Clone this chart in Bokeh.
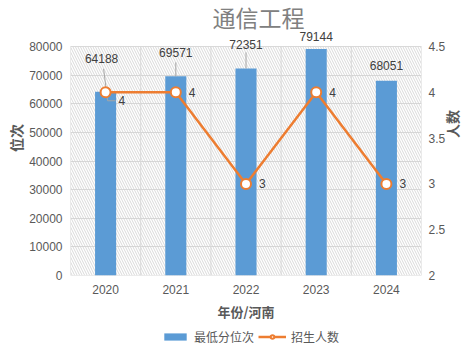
from math import pi
from bokeh.plotting import figure
from bokeh.layouts import column
from bokeh.models import (Range1d, LinearAxis, FixedTicker, Label, Legend, LegendItem,
                          ColumnDataSource, NumeralTickFormatter)
from bokeh.embed import file_html
from bokeh.resources import INLINE
from bokeh.core.properties import value

# ---- data ----
years = ["2020", "2021", "2022", "2023", "2024"]
min_rank = [64188, 69571, 72351, 79144, 68051]
enroll = [4, 4, 3, 4, 3]
left_ticks = [0, 10000, 20000, 30000, 40000, 50000, 60000, 70000, 80000]
right_ticks = [2, 2.5, 3, 3.5, 4, 4.5]
series_names = ["最低分位次", "招生人数"]

# ---- styling / geometry ----
W = 476
H1, H2 = 325, 26                # main chart, legend strip
ML, MR, MB = 70, 55, 50
PLOT_TOP = 46                   # pixel row of the top of the plotting box
FW, FH = W - ML - MR, H1 - MB   # frame reaches the top of the canvas
BOX_H = FH - PLOT_TOP
BLUE = "#5B9BD5"
ORANGE = "#ED7D31"
GRID = "#d9d9d9"
TICK = "#595959"
LAB = "#404040"
NUMF = value("Liberation Sans")
CJK = "Noto Sans CJK SC"

idx = list(range(len(years)))
ymin, ymax = left_ticks[0], left_ticks[-1]
rmin, rmax = right_ticks[0], right_ticks[-1]
ytop = ymin + (ymax - ymin) * FH / BOX_H
rtop = rmin + (rmax - rmin) * FH / BOX_H
px_x = len(years) / FW
px_y = (ymax - ymin) / BOX_H

p = figure(width=W, height=H1, output_backend="svg", toolbar_location=None,
           x_range=Range1d(-0.5, len(years) - 0.5), y_range=Range1d(ymin, ytop),
           min_border_left=ML, min_border_right=MR, min_border_top=0, min_border_bottom=MB)
p.background_fill_color = "white"
p.border_fill_color = "white"
p.outline_line_color = None

# grids
p.xgrid.visible = False
p.ygrid.ticker = FixedTicker(ticks=left_ticks)
p.ygrid.grid_line_color = GRID

# hatched plot box with outline
p.quad(left=-0.5, right=len(years) - 0.5, bottom=ymin, top=ymax,
       fill_alpha=0, line_color=GRID, line_width=1, hatch_pattern="\\",
       hatch_color="#cfcfcf", hatch_scale=5, hatch_weight=0.8)
p.segment(x0=[i + 0.5 for i in idx[:-1]], y0=ymin, x1=[i + 0.5 for i in idx[:-1]], y1=ymax,
          line_color=GRID, line_width=1)

# axes
p.xaxis.ticker = FixedTicker(ticks=idx)
p.xaxis.major_label_overrides = {i: y for i, y in enumerate(years)}
p.xaxis.axis_label = "年份/河南"
p.yaxis.ticker = FixedTicker(ticks=left_ticks)
p.yaxis.formatter = NumeralTickFormatter(format="0")
p.yaxis.axis_label = "位次"

rax = LinearAxis(y_range_name="r", ticker=FixedTicker(ticks=right_ticks),
                 formatter=NumeralTickFormatter(format="0.[0]"), axis_label="人数")
p.extra_y_ranges = {"r": Range1d(rmin, rtop)}
p.add_layout(rax, "right")
if hasattr(rax, "axis_label_orientation"):
    rax.axis_label_orientation = pi / 2

for ax in (p.xaxis[0], p.yaxis[0], rax):
    ax.axis_line_color = None
    ax.major_tick_line_color = None
    ax.minor_tick_line_color = None
    ax.major_tick_out = 0
    ax.major_tick_in = 0
    ax.minor_tick_out = 0
    ax.minor_tick_in = 0
    ax.major_label_text_font = "Liberation Sans"
    ax.major_label_text_font_size = "12px"
    ax.major_label_text_color = TICK
    ax.axis_label_text_font = CJK
    ax.axis_label_text_font_style = "bold"
    ax.axis_label_text_color = TICK
p.xaxis.major_label_standoff = 9
p.xaxis.axis_label_standoff = 5
p.xaxis.axis_label_text_font_size = "13px"
p.yaxis.major_label_standoff = 8
p.yaxis.axis_label_standoff = 0
p.yaxis.axis_label_text_font_size = "14px"
rax.major_label_standoff = 7
rax.axis_label_standoff = 4
rax.axis_label_text_font_size = "14px"

# bars
bars = p.vbar(x=idx, top=min_rank, width=0.3, fill_color=BLUE, line_color=None)

# leader lines
lead_px = [23, 14, 16, 0, 0]
for i, (v, lp) in enumerate(zip(min_rank, lead_px)):
    if lp > 0 and i > 0:
        p.segment(x0=i, y0=v, x1=i, y1=v + lp * px_y, line_color="#a6a6a6", line_width=1)
v0 = min_rank[0]
p.line(x=[0 - 2 * px_x, 0 + 2 * px_x, 0 + 10 * px_x],
       y=[v0 + 23 * px_y, v0 - 9 * px_y, v0 - 9 * px_y], line_color="#a6a6a6", line_width=1)

# bar labels
bar_dx = [-4, 0, 0, 0, 0]
bar_dy = [-33, -24, -24, -12, -15]
src_b = ColumnDataSource(dict(x=idx, y=min_rank, t=[str(v) for v in min_rank], dx=bar_dx, dy=bar_dy))
p.text(x="x", y="y", text="t", source=src_b, x_offset="dx", y_offset="dy",
       text_align="center", text_baseline="middle", text_font=NUMF,
       text_font_size="12px", text_color=LAB)

# line series
ln = p.line(x=idx, y=enroll, y_range_name="r", line_color=ORANGE, line_width=2.5)
sc = p.scatter(x=idx, y=enroll, y_range_name="r", size=10, fill_color="white",
               line_color=ORANGE, line_width=2)

line_dx = [13, 13, 13, 13, 13]
line_dy = [8, 0, 0, 0, 0]
src_l = ColumnDataSource(dict(x=idx, y=enroll, t=[str(v) for v in enroll], dx=line_dx, dy=line_dy))
p.text(x="x", y="y", text="t", source=src_l, y_range_name="r", x_offset="dx", y_offset="dy",
       text_align="left", text_baseline="middle", text_font=NUMF,
       text_font_size="12px", text_color=LAB)

# title
p.add_layout(Label(x=258 - ML, y=FH - 16, x_units="screen", y_units="screen", text="通信工程",
                   text_font=CJK, text_font_size="23px", text_color="#808080",
                   text_align="center", text_baseline="middle"))

# ---- legend strip ----
q = figure(width=W, height=H2, output_backend="svg", toolbar_location=None,
           x_range=Range1d(0, 1), y_range=Range1d(0, 1),
           x_axis_location=None, y_axis_location=None,
           min_border_left=0, min_border_right=0, min_border_top=0, min_border_bottom=0)
q.outline_line_color = None
q.xgrid.visible = False
q.ygrid.visible = False
offscreen = ColumnDataSource(dict(x=[-10], y=[-10]))
lb = q.vbar(x="x", top="y", source=offscreen, width=0.3, fill_color=BLUE, line_color=None)
ll = q.line(x="x", y="y", source=offscreen, line_color=ORANGE, line_width=2.5)
ls = q.scatter(x="x", y="y", source=offscreen, size=10, fill_color="white",
               line_color=ORANGE, line_width=2)
legend = Legend(items=[LegendItem(label=series_names[0], renderers=[lb]),
                       LegendItem(label=series_names[1], renderers=[ll, ls])],
                orientation="horizontal", location=(91, 6),
                glyph_width=28, glyph_height=9, label_text_font=CJK,
                label_text_font_size="12px", label_text_color=TICK,
                border_line_color=None, background_fill_alpha=0, padding=0,
                spacing=4, label_standoff=5, margin=0)
q.add_layout(legend)

layout = column(p, q, spacing=0)
open("out.html", "w").write(file_html(layout, INLINE))
